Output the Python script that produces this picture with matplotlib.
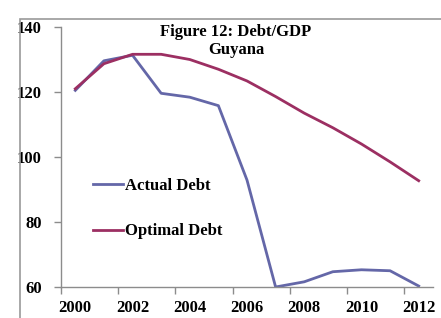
import matplotlib
matplotlib.use('Agg')
import matplotlib.pyplot as plt
from matplotlib.patches import Rectangle

years = list(range(2000, 2013))
actual_debt = [120.5, 129.6, 131.3, 119.6, 118.4, 115.8, 92.9, 60.0, 61.6, 64.7, 65.3, 65.0, 60.3]
optimal_debt = [121.0, 128.7, 131.6, 131.6, 130.0, 127.0, 123.4, 118.6, 113.5, 109.0, 104.0, 98.5, 92.7]

ACTUAL_COLOR = '#6467A8'
OPTIMAL_COLOR = '#9C2F62'
SPINE_COLOR = '#8C8C8C'

plt.rcParams['font.family'] = ['Liberation Serif', 'DejaVu Serif']
plt.rcParams['font.weight'] = 'bold'

fig = plt.figure(figsize=(4.41, 3.18), dpi=100)
ax = fig.add_axes([61 / 441, 1 - 287 / 318, 372 / 441, 260 / 318])

# outer chart frame (cropped on the right and bottom like the source)
fig.patches.append(Rectangle((20 / 441, -0.1), 1.2, 1 - 19 / 318 + 0.1,
                             transform=fig.transFigure, fill=False,
                             edgecolor='#9A9A9A', linewidth=1.2))

x = list(range(len(years)))
ax.plot(x, actual_debt, color=ACTUAL_COLOR, linewidth=2, label='Actual Debt')
ax.plot(x, optimal_debt, color=OPTIMAL_COLOR, linewidth=2, label='Optimal Debt')

ax.set_xlim(-0.5, len(years) - 0.5)
ax.set_ylim(60, 140)
ax.set_yticks([60, 80, 100, 120, 140])

ax.set_xticks(x[::2])
ax.set_xticklabels([str(y) for y in years[::2]])
ax.set_xticks([i - 0.5 for i in x[::2]], minor=True)
ax.tick_params(axis='x', which='major', length=0, pad=9, labelsize=12)
ax.tick_params(axis='x', which='minor', length=5, color=SPINE_COLOR, width=1)
ax.tick_params(axis='y', length=5, color=SPINE_COLOR, width=1, pad=9, labelsize=12)

for side in ['top', 'right']:
    ax.spines[side].set_visible(False)
for side in ['left', 'bottom']:
    ax.spines[side].set_color(SPINE_COLOR)
    ax.spines[side].set_linewidth(1)

ax.legend(loc='upper left', bbox_to_anchor=(0.086, 0.42), frameon=False,
          handlelength=1.8, handletextpad=0.15, labelspacing=1.78,
          borderpad=0, borderaxespad=0, prop={'size': 12, 'weight': 'bold'})

fig.text(236 / 441, 1 - 41 / 318, 'Figure 12: Debt/GDP\nGuyana', ha='center',
         va='center', fontsize=12, fontweight='bold', linespacing=1.2)

fig.savefig('out.png', dpi=100)
